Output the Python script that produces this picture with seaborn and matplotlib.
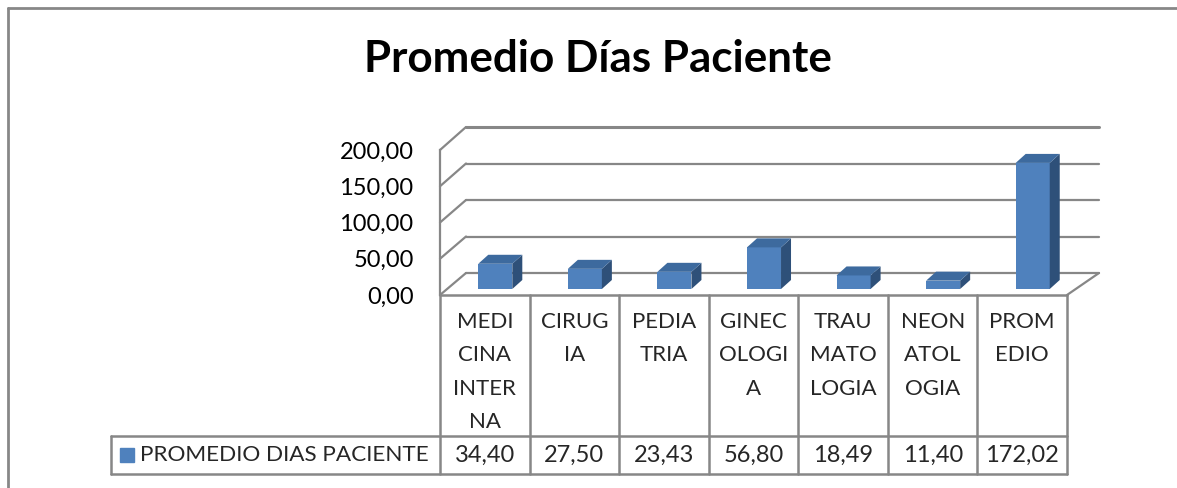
import numpy as np
import pandas as pd
import matplotlib
matplotlib.use("Agg")
import matplotlib.pyplot as plt
import seaborn as sns
from matplotlib.patches import Polygon, ConnectionPatch
from matplotlib.lines import Line2D
from matplotlib.transforms import IdentityTransform

# data
categories = ["MEDICINA INTERNA", "CIRUGIA", "PEDIATRIA", "GINECOLOGIA",
              "TRAUMATOLOGIA", "NEONATOLOGIA", "PROMEDIO"]
header_labels = ["MEDI\nCINA\nINTER\nNA", "CIRUG\nIA", "PEDIA\nTRIA",
                 "GINEC\nOLOGI\nA", "TRAU\nMATO\nLOGIA", "NEON\nATOL\nOGIA",
                 "PROM\nEDIO"]
values = [34.40, 27.50, 23.43, 56.80, 18.49, 11.40, 172.02]
series_name = "PROMEDIO DIAS PACIENTE"
y_ticks = [0, 50, 100, 150, 200]

df = pd.DataFrame({"cat": categories, "val": values})

W, H = 1177, 488
FRONT = "#4F81BD"
TOP = "#3D6A9E"
SIDE = "#2E5079"
GRID = "#878787"

sns.set_style("white")
plt.rcParams["font.family"] = ["Lato", "DejaVu Sans"]


def box(x0, y0, x1, y1):
    # pixel box (top-left origin) -> figure fraction rect
    return [x0 / W, 1 - y1 / H, (x1 - x0) / W, (y1 - y0) / H]


fig = plt.figure(figsize=(W / 100, H / 100), dpi=100)

# back wall with gridlines
ax_back = fig.add_axes(box(466, 127, 1099, 273))
ax_back.set_xlim(-0.5, 6.5)
ax_back.set_ylim(0, 200)
ax_back.set_facecolor("none")
for v in y_ticks:
    ax_back.axhline(v, color=GRID, lw=2.2 if v == 200 else 1.6, clip_on=False)
ax_back.set_xticks([])
ax_back.set_yticks([])
sns.despine(ax=ax_back, left=True, bottom=True)

# front plane: y axis labels + left wall edge
ax_front = fig.add_axes(box(440, 150, 1067, 295))
ax_front.set_xlim(-0.5, 6.5)
ax_front.set_ylim(0, 200)
ax_front.set_facecolor("none")
ax_front.set_xticks([])
ax_front.set_yticks(y_ticks)
ax_front.set_yticklabels([f"{v:.2f}".replace(".", ",") for v in y_ticks])
ax_front.tick_params(axis="y", length=0, pad=19, labelsize=17, labelcolor="black")
sns.despine(ax=ax_front, right=True, top=True, bottom=True)
ax_front.spines["left"].set_color(GRID)
ax_front.spines["left"].set_linewidth(1.6)

# left wall diagonals and right floor edge
for v in y_ticks:
    con = ConnectionPatch(xyA=(-0.5, v), coordsA=ax_front.transData,
                          xyB=(-0.5, v), coordsB=ax_back.transData,
                          color=GRID, lw=1.6)
    fig.add_artist(con)
con = ConnectionPatch(xyA=(6.5, 0), coordsA=ax_front.transData,
                      xyB=(6.5, 0), coordsB=ax_back.transData,
                      color=GRID, lw=1.6)
fig.add_artist(con)

# bars
ax_bar = fig.add_axes(box(450.5, 142.4, 1077.5, 289))
sns.barplot(data=df, x="cat", y="val", color=FRONT, saturation=1,
            width=0.38, ax=ax_bar, linewidth=0)
ax_bar.set_xlim(-0.5, 6.5)
ax_bar.set_ylim(0, 200)
ax_bar.set_facecolor("none")
ax_bar.set_xlabel("")
ax_bar.set_ylabel("")
ax_bar.set_xticks([])
ax_bar.set_yticks([])
sns.despine(ax=ax_bar, left=True, bottom=True)

dx, dy = 10, 9
for p in ax_bar.patches:
    x0, x1 = p.get_x(), p.get_x() + p.get_width()
    h = p.get_height()
    (ax0, ay0), (ax1, ay1) = ax_bar.transData.transform([(x0, 0), (x1, h)])
    top = [(ax0, ay1), (ax1, ay1), (ax1 + dx, ay1 + dy), (ax0 + dx, ay1 + dy)]
    side = [(ax1, ay0), (ax1 + dx, ay0 + dy), (ax1 + dx, ay1 + dy), (ax1, ay1)]
    ax_bar.add_patch(Polygon(side, closed=True, facecolor=SIDE, lw=0,
                             transform=IdentityTransform(), clip_on=False))
    ax_bar.add_patch(Polygon(top, closed=True, facecolor=TOP, lw=0,
                             transform=IdentityTransform(), clip_on=False))

# data table
hdr_h, row_h = 141, 38
col_w = (1067 - 440) / 7
left = -0.5 - (440 - 111) / col_w
ax_tab = fig.add_axes(box(111, 295, 1067, 474))
ax_tab.set_xlim(left, 6.5)
ax_tab.set_ylim(hdr_h + row_h, 0)
ax_tab.axis("off")
lk = dict(color=GRID, lw=1.8, clip_on=False)
ax_tab.plot([-0.5, 6.5], [0, 0], **lk)
ax_tab.plot([left, 6.5], [hdr_h, hdr_h], **lk)
ax_tab.plot([left, 6.5], [hdr_h + row_h, hdr_h + row_h], **lk)
ax_tab.plot([left, left], [hdr_h, hdr_h + row_h], **lk)
for i in range(len(categories) + 1):
    ax_tab.plot([i - 0.5, i - 0.5], [0, hdr_h + row_h], **lk)

for i, (lab, v) in enumerate(zip(header_labels, values)):
    ax_tab.text(i, 17, lab, ha="center", va="top", fontsize=16,
                linespacing=1.83)
    ax_tab.text(i, hdr_h + row_h / 2, f"{v:.2f}".replace(".", ","),
                ha="center", va="center", fontsize=17)

ax_tab.plot([left + 15.5 / col_w], [hdr_h + row_h / 2], marker="s",
            markersize=9.5, color=FRONT, clip_on=False)
ax_tab.text(left + 29 / col_w, hdr_h + row_h / 2, series_name,
            ha="left", va="center", fontsize=16.2)

# title and outer frame
fig.text(597.5 / W, 1 - 72 / H, "Promedio Días Paciente", ha="center",
         va="baseline", fontsize=31.7, fontweight="bold", color="black")
fig.add_artist(Line2D([8 / W, 1], [1 - 8 / H, 1 - 8 / H], color=GRID, lw=2))
fig.add_artist(Line2D([8 / W, 8 / W], [0, 1 - 8 / H], color=GRID, lw=2))

fig.savefig("out.png", dpi=100)
